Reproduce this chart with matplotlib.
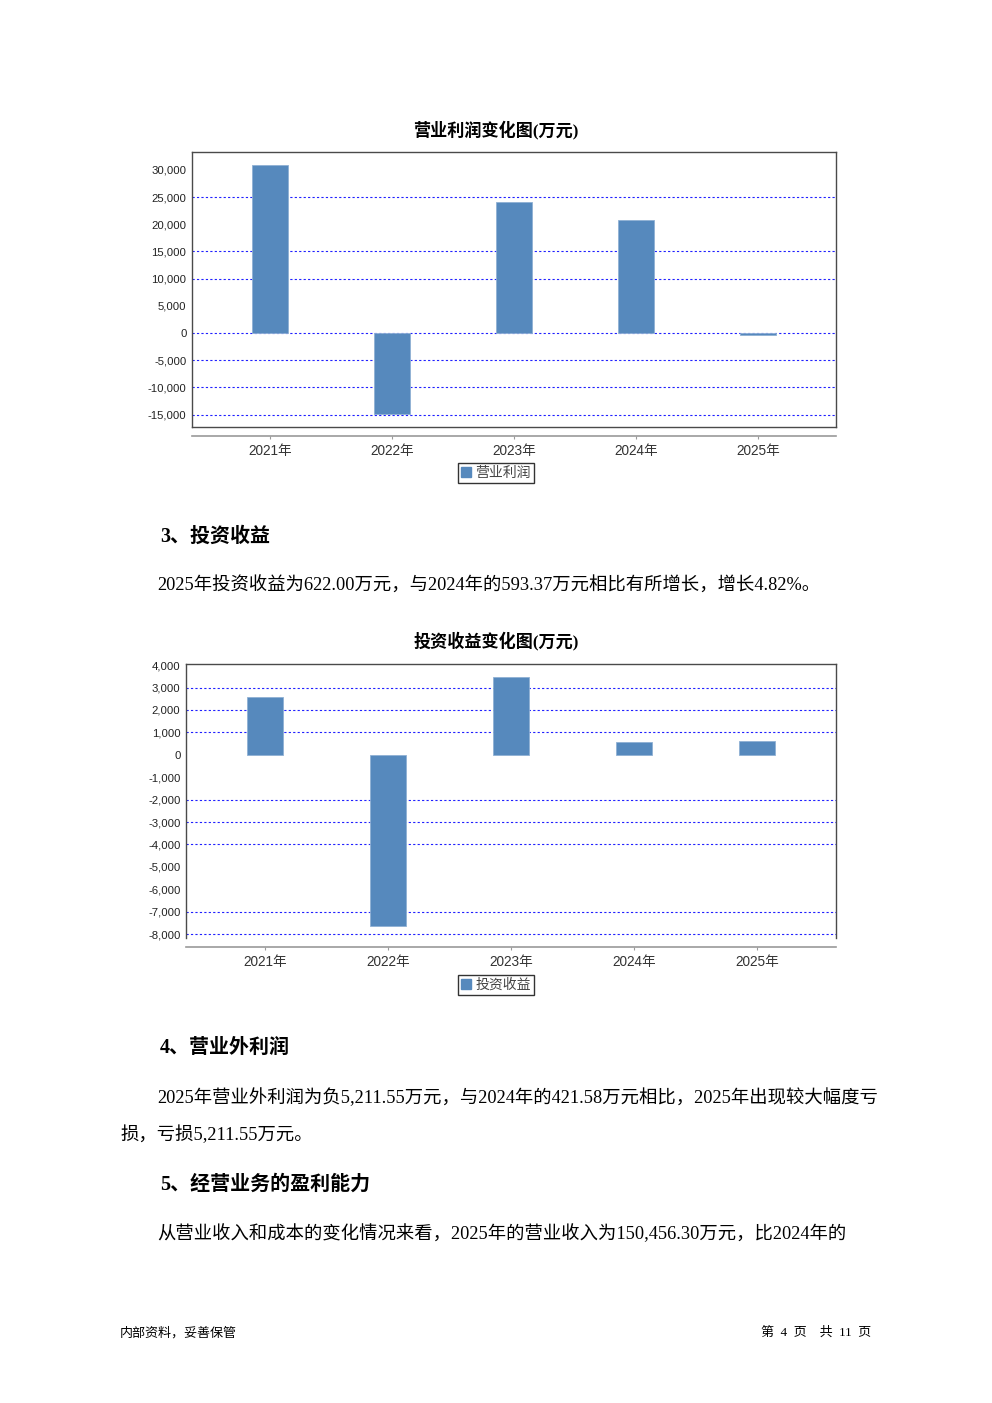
#recreate the page with two bar charts (operating profit / investment income)
import matplotlib
matplotlib.use('Agg')
import matplotlib.pyplot as plt
from matplotlib.patches import Rectangle
from matplotlib.ticker import FuncFormatter

plt.rcParams['font.family'] = ['Liberation Sans', 'Noto Sans CJK SC']

years = ['2021年', '2022年', '2023年', '2024年', '2025年']
op_profit = [30880, -14900, 24080, 20770, -350]
invest_income = [2590, -7630, 3480, 593.37, 622.00]

op_ticks = [30000, 25000, 20000, 15000, 10000, 5000, 0, -5000, -10000, -15000]
op_grid = [25000, 15000, 10000, 0, -5000, -10000, -15000]
inv_ticks = [4000, 3000, 2000, 1000, 0, -1000, -2000, -3000, -4000, -5000, -6000, -7000, -8000]
inv_grid = [3000, 2000, 1000, -2000, -3000, -4000, -7000, -8000]

W, H = 992, 1403
bar_color = '#5689bd'
frame_color = '#4a4a4a'
axis_gray = '#9a9a9a'
cjk = ['Liberation Serif', 'Noto Sans CJK SC']

fig = plt.figure(figsize=(W / 100, H / 100), dpi=100)
fig.patch.set_facecolor('white')


def box(x0, y0, x1, y1):
    # pixel box -> figure fraction rect
    return [x0 / W, 1 - y1 / H, (x1 - x0) / W, (y1 - y0) / H]


def bar_chart(rect, values, ticks, grid, ylim, title, title_y, label, legend_xy, bottom_frame):
    ax = fig.add_axes(rect)
    ax.bar(range(len(years)), values, width=0.29, color=bar_color,
           edgecolor='#8fb0d4', linewidth=0.6, zorder=3)
    for g in grid:
        ax.axhline(g, color='#2020ff', linestyle=(0, (2, 2)), linewidth=0.8, zorder=1)
    ax.set_xlim(-0.64, len(years) - 1 + 0.64)
    ax.set_ylim(*ylim)
    ax.set_yticks(ticks)
    ax.yaxis.set_major_formatter(FuncFormatter(lambda v, p: f'{int(v):,}'))
    ax.tick_params(axis='y', length=0, pad=4, labelsize=8.2, labelcolor='#222222')
    ax.set_xticks(range(len(years)))
    ax.set_xticklabels(years)
    ax.tick_params(axis='x', length=2.5, width=0.8, color=axis_gray, pad=3,
                   labelsize=9.8, labelcolor='#333333')
    for s in ['top', 'left', 'right']:
        ax.spines[s].set_color(frame_color)
        ax.spines[s].set_linewidth(1.0)
    ax.spines['bottom'].set_position(('outward', 6.5))
    ax.spines['bottom'].set_color(axis_gray)
    ax.spines['bottom'].set_linewidth(1.2)
    if bottom_frame:
        ax.plot([0, 1], [0, 0], transform=ax.transAxes, color=frame_color,
                linewidth=1.0, clip_on=False, zorder=4)
    fig.text(0.5, 1 - title_y / H, title, ha='center', va='center',
             fontsize=12.3, fontweight='bold', family=cjk)
    handle = Rectangle((0, 0), 1, 1, color=bar_color)
    leg = fig.legend([handle], [label], loc='center',
                     bbox_to_anchor=(legend_xy[0] / W, 1 - legend_xy[1] / H),
                     fancybox=False, frameon=True, edgecolor='black',
                     handlelength=0.7, handleheight=0.7, handletextpad=0.3,
                     borderpad=0.25, borderaxespad=0,
                     prop={'family': ['Noto Sans CJK SC'], 'size': 10})
    leg.get_frame().set_linewidth(1.0)
    for t in leg.get_texts():
        t.set_color('#444444')
    return ax


bar_chart(box(192, 152, 836, 427), op_profit, op_ticks, op_grid, (-17300, 33300),
          '营业利润变化图(万元)', 130, '营业利润', (496, 473), True)
bar_chart(box(186, 664, 836, 938), invest_income, inv_ticks, inv_grid, (-8170, 4050),
          '投资收益变化图(万元)', 641, '投资收益', (496, 985), False)

# body text of the page
def txt(x, y, s, size=13.2, bold=False, color='black'):
    fig.text(x / W, 1 - y / H, s, ha='left', va='center', fontsize=size,
             fontweight='bold' if bold else 'normal', family=cjk, color=color)

txt(160, 537, '3、投资收益', 14.4, True)
txt(157, 586, '2025年投资收益为622.00万元，与2024年的593.37万元相比有所增长，增长4.82%。')
txt(160, 1048, '4、营业外利润', 14.4, True)
txt(157, 1098, '2025年营业外利润为负5,211.55万元，与2024年的421.58万元相比，2025年出现较大幅度亏')
txt(120, 1135, '损，亏损5,211.55万元。')
txt(160, 1185, '5、经营业务的盈利能力', 14.4, True)
txt(157, 1234, '从营业收入和成本的变化情况来看，2025年的营业收入为150,456.30万元，比2024年的')

# footer
txt(120, 1333, '内部资料，妥善保管', 9.4)
fig.text(871 / W, 1 - 1333 / H, '第  4  页    共  11  页', ha='right', va='center',
         fontsize=9.4, family=cjk)

fig.savefig('out.png', dpi=100)
